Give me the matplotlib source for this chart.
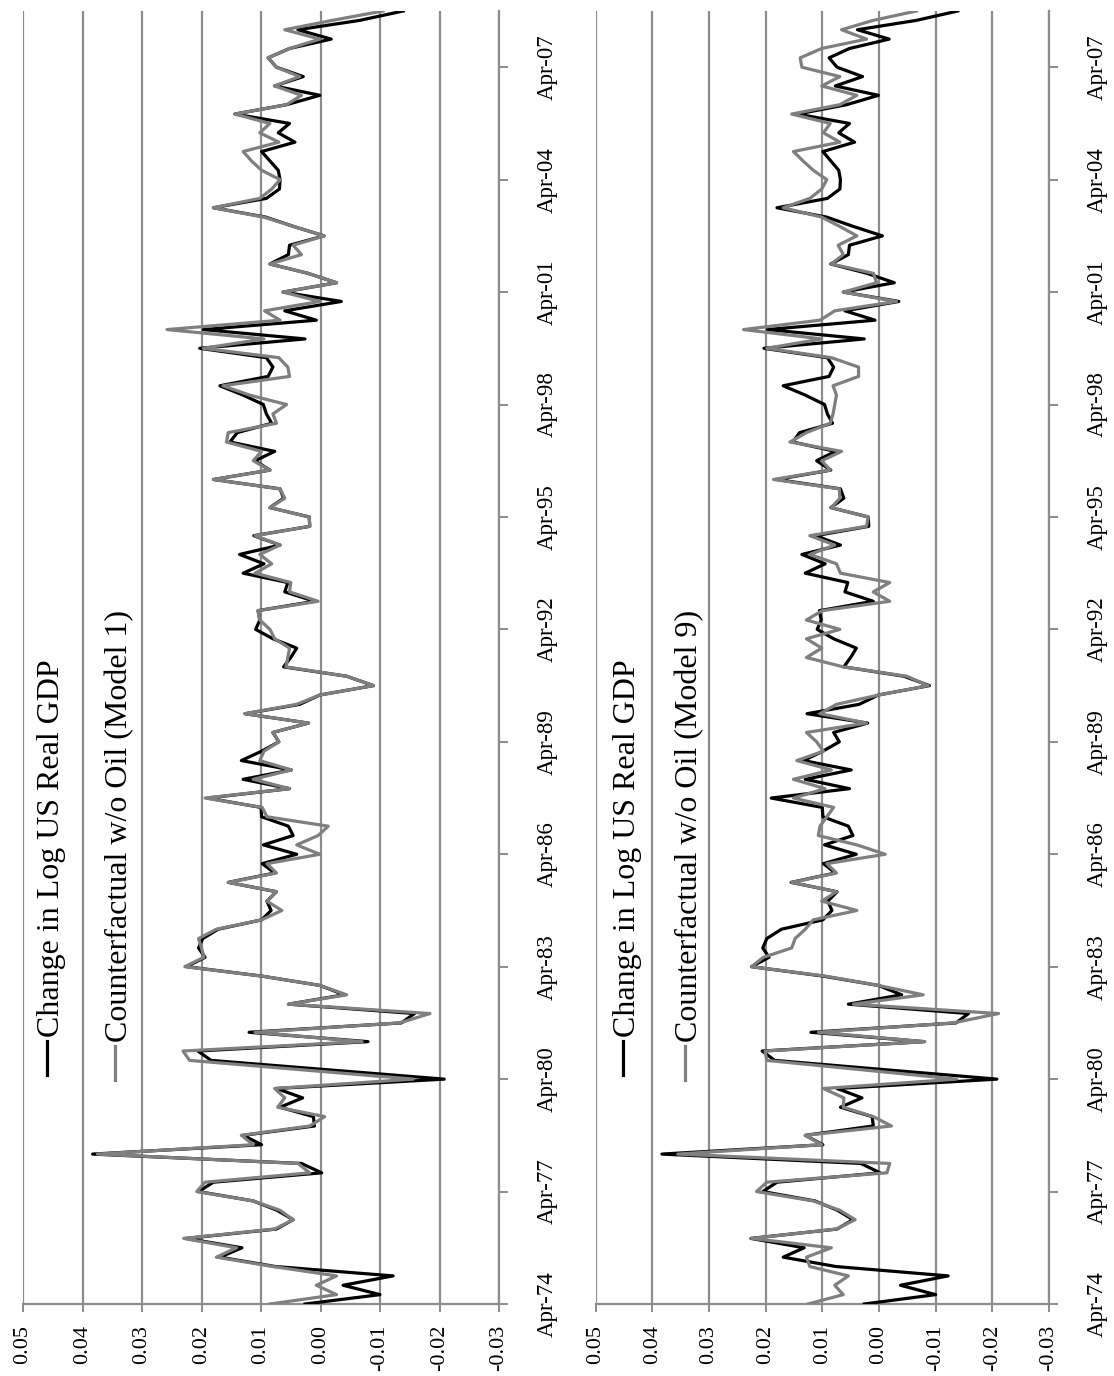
import numpy as np
import matplotlib
matplotlib.use("Agg")
from matplotlib import pyplot as plt
from matplotlib.lines import Line2D

plt.rcParams["font.family"] = ["Liberation Serif", "DejaVu Serif"]
plt.rcParams["axes.unicode_minus"] = False

# quarterly change in log US real GDP, 1974Q2 - 2008Q4
gdp_change = [
    0.0026, -0.0100, -0.0038, -0.0122, 0.0076, 0.0169, 0.0132, 0.0226, 0.0074, 0.0046,
    0.0073, 0.0113, 0.0205, 0.0180, -0.0002, 0.0032, 0.0383, 0.0099, 0.0130, 0.0010,
    0.0012, 0.0068, 0.0030, 0.0074, -0.0208, -0.0013, 0.0184, 0.0206, -0.0080, 0.0120,
    -0.0136, -0.0158, 0.0054, -0.0040, 0.0001, 0.0099, 0.0225, 0.0194, 0.0205, 0.0198,
    0.0172, 0.0099, 0.0083, 0.0090, 0.0074, 0.0155, 0.0077, 0.0098, 0.0040, 0.0096,
    0.0046, 0.0054, 0.0099, 0.0100, 0.0190, 0.0052, 0.0130, 0.0049, 0.0133, 0.0099,
    0.0070, 0.0080, 0.0020, 0.0127, 0.0035, 0.0001, -0.0089, -0.0044, 0.0062, 0.0050,
    0.0040, 0.0080, 0.0109, 0.0102, 0.0105, 0.0010, 0.0060, 0.0055, 0.0130, 0.0095,
    0.0136, 0.0068, 0.0112, 0.0018, 0.0019, 0.0085, 0.0062, 0.0068, 0.0180, 0.0085,
    0.0110, 0.0077, 0.0152, 0.0140, 0.0082, 0.0091, 0.0096, 0.0130, 0.0169, 0.0088,
    0.0080, 0.0091, 0.0203, 0.0026, 0.0197, 0.0007, 0.0060, -0.0035, 0.0063, -0.0027,
    0.0021, 0.0085, 0.0054, 0.0052, -0.0006, 0.0045, 0.0092, 0.0180, 0.0091, 0.0069,
    0.0068, 0.0071, 0.0085, 0.0099, 0.0043, 0.0071, 0.0052, 0.0144, 0.0057, 0.0001,
    0.0077, 0.0029, 0.0074, 0.0088, 0.0052, -0.0018, 0.0038, -0.0066, -0.0139,
]

# counterfactual without oil shocks, model 1
cf_model1 = [
    0.0085, -0.0027, 0.0007, -0.0027, 0.0080, 0.0175, 0.0141, 0.0230, 0.0077, 0.0046,
    0.0068, 0.0113, 0.0208, 0.0194, 0.0018, 0.0038, 0.0375, 0.0113, 0.0133, 0.0018,
    -0.0007, 0.0072, 0.0060, 0.0077, -0.0156, 0.0032, 0.0220, 0.0231, -0.0070, 0.0110,
    -0.0133, -0.0184, 0.0054, -0.0044, 0.0001, 0.0099, 0.0228, 0.0196, 0.0200, 0.0205,
    0.0175, 0.0099, 0.0065, 0.0090, 0.0074, 0.0155, 0.0074, 0.0090, 0.0001, 0.0040,
    0.0004, -0.0013, 0.0090, 0.0098, 0.0194, 0.0052, 0.0113, 0.0049, 0.0102, 0.0095,
    0.0070, 0.0080, 0.0020, 0.0127, 0.0040, 0.0001, -0.0089, -0.0044, 0.0058, 0.0055,
    0.0052, 0.0077, 0.0085, 0.0102, 0.0105, 0.0004, 0.0052, 0.0050, 0.0110, 0.0082,
    0.0102, 0.0068, 0.0110, 0.0018, 0.0019, 0.0085, 0.0060, 0.0068, 0.0180, 0.0085,
    0.0113, 0.0099, 0.0158, 0.0155, 0.0074, 0.0080, 0.0057, 0.0119, 0.0164, 0.0052,
    0.0055, 0.0070, 0.0197, 0.0095, 0.0258, 0.0068, 0.0094, 0.0001, 0.0063, -0.0027,
    0.0021, 0.0085, 0.0032, 0.0046, -0.0006, 0.0045, 0.0095, 0.0180, 0.0102, 0.0082,
    0.0068, 0.0099, 0.0116, 0.0130, 0.0070, 0.0102, 0.0085, 0.0144, 0.0057, 0.0032,
    0.0077, 0.0035, 0.0074, 0.0088, 0.0052, 0.0001, 0.0060, -0.0020, -0.0105,
]

# counterfactual without oil shocks, model 9
cf_model9 = [
    0.0125, 0.0063, 0.0078, 0.0054, 0.0122, 0.0128, 0.0084, 0.0225, 0.0075, 0.0042,
    0.0069, 0.0116, 0.0216, 0.0198, -0.0014, -0.0019, 0.0355, 0.0101, 0.0130, -0.0022,
    0.0010, 0.0063, 0.0062, 0.0098, -0.0137, 0.0030, 0.0198, 0.0201, -0.0081, 0.0107,
    -0.0131, -0.0211, 0.0045, -0.0078, 0.0001, 0.0095, 0.0225, 0.0204, 0.0154, 0.0148,
    0.0130, 0.0116, 0.0039, 0.0101, 0.0075, 0.0154, 0.0075, 0.0092, -0.0011, 0.0039,
    0.0107, 0.0104, 0.0092, 0.0080, 0.0151, 0.0095, 0.0151, 0.0084, 0.0145, 0.0098,
    0.0110, 0.0128, 0.0022, 0.0104, 0.0075, 0.0000, -0.0087, -0.0049, 0.0063, 0.0128,
    0.0101, 0.0128, 0.0069, 0.0128, 0.0100, -0.0019, 0.0010, -0.0019, 0.0068, 0.0075,
    0.0122, 0.0078, 0.0122, 0.0022, 0.0019, 0.0084, 0.0069, 0.0070, 0.0186, 0.0086,
    0.0101, 0.0066, 0.0157, 0.0128, 0.0086, 0.0081, 0.0078, 0.0075, 0.0081, 0.0036,
    0.0036, 0.0084, 0.0198, 0.0101, 0.0239, 0.0104, 0.0078, -0.0031, 0.0063, 0.0004,
    0.0010, 0.0084, 0.0063, 0.0072, 0.0039, 0.0069, 0.0101, 0.0169, 0.0122, 0.0101,
    0.0092, 0.0116, 0.0134, 0.0151, 0.0069, 0.0098, 0.0086, 0.0154, 0.0069, 0.0039,
    0.0101, 0.0069, 0.0136, 0.0139, 0.0101, 0.0022, 0.0066, 0.0010, -0.0066,
]

date_labels = ["Apr-74", "Apr-77", "Apr-80", "Apr-83", "Apr-86", "Apr-89",
               "Apr-92", "Apr-95", "Apr-98", "Apr-01", "Apr-04", "Apr-07"]
value_ticks = [0.05, 0.04, 0.03, 0.02, 0.01, 0.00, -0.01, -0.02, -0.03]

series_name = "Change in Log US Real GDP"
cf_names = ["Counterfactual w/o Oil (Model 1)", "Counterfactual w/o Oil (Model 9)"]

W, H = 1114, 1376
fig = plt.figure(figsize=(W / 100, H / 100), dpi=100)

grid_col = "#8c8c8c"
grey_line = "#7f7f7f"


def px(x, y):
    # pixel position (origin top-left) -> figure fraction
    return x / W, 1 - y / H


def panel(left_px, right_px, cf, cf_name, legend_x):
    top_px, bottom_px = 11, 1304
    ax = fig.add_axes([left_px / W, 1 - bottom_px / H,
                       (right_px - left_px) / W, (bottom_px - top_px) / H])
    q = np.arange(len(gdp_change))
    ax.plot(gdp_change, q, color="black", lw=2.3, zorder=3)
    ax.plot(cf, q, color=grey_line, lw=2.3, zorder=4)

    ax.set_xlim(0.05, -0.03)
    ax.set_ylim(0, len(gdp_change) - 1)

    ax.set_xticks(value_ticks)
    ax.set_xticklabels(["%.2f" % v for v in value_ticks], rotation=90,
                       fontsize=16)
    ax.xaxis.grid(True, color=grid_col, lw=1.6)
    ax.set_axisbelow(True)

    ax.yaxis.tick_right()
    ax.set_yticks(np.arange(0, len(gdp_change), 12))
    ax.set_yticklabels(date_labels, rotation=90, va="center", fontsize=16.5)

    ax.tick_params(axis="x", direction="out", length=6, width=1.4,
                   color=grid_col, pad=9)
    ax.tick_params(axis="y", direction="out", length=6.5, width=1.4,
                   color=grid_col, pad=21)
    for s in ("top", "left"):
        ax.spines[s].set_visible(False)
    for s in ("bottom", "right"):
        ax.spines[s].set_color(grid_col)
        ax.spines[s].set_linewidth(1.6)

    # legend drawn as rotated entries
    entries = [("black", series_name), (grey_line, cf_name)]
    for (col, name), (lx, dash_y0) in zip(entries, legend_x):
        x0, y0 = px(lx, dash_y0 + 34)
        x1, y1 = px(lx, dash_y0)
        fig.add_artist(Line2D([x0, x1], [y0, y1], color=col, lw=2.3))
        tx, ty = px(lx + 5, dash_y0 - 4)
        fig.text(tx, ty, name, rotation=90, ha="center", va="bottom",
                 fontsize=23)
    return ax


panel(23, 499, cf_model1, cf_names[0], [(47, 1041), (115, 1046)])
panel(595.6, 1049, cf_model9, cf_names[1], [(623, 1041), (685, 1046)])

fig.savefig("out.png", dpi=100)
